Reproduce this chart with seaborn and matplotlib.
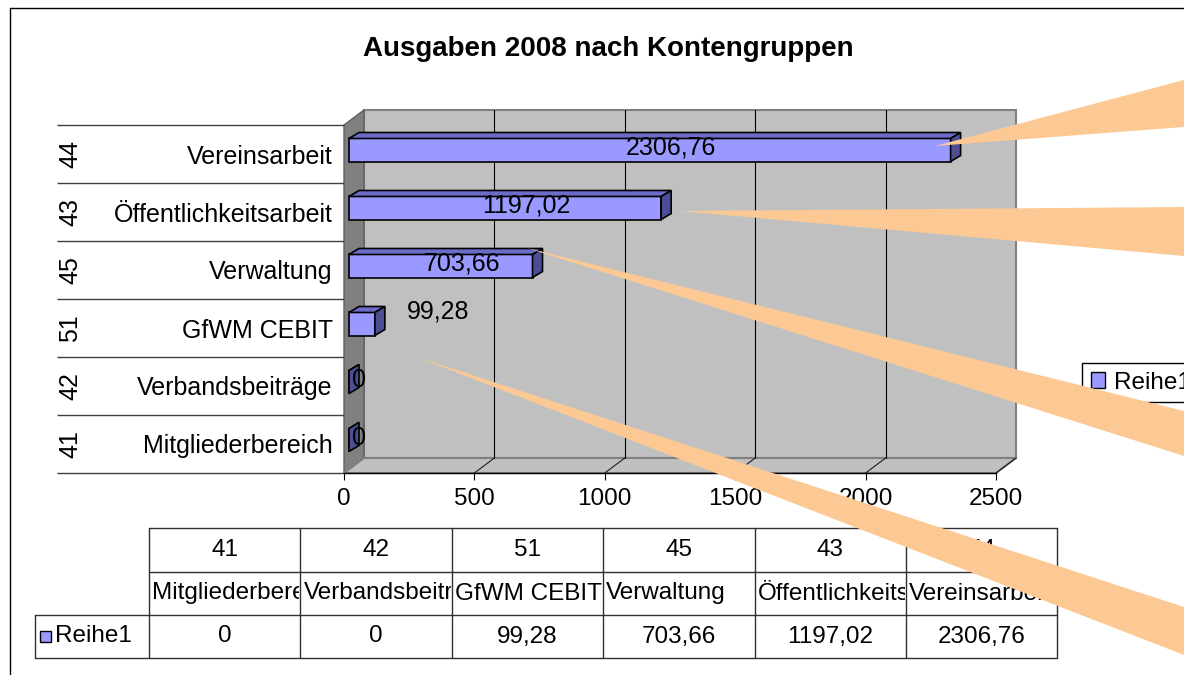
import matplotlib
matplotlib.use('Agg')
import matplotlib.pyplot as plt
import seaborn as sns
import pandas as pd
import numpy as np
from matplotlib.patches import Polygon, Rectangle, Patch

# ---------------------------------------------------------------------
# Daten (Excel-Reihenfolge, wie in der Datentabelle)
# ---------------------------------------------------------------------
codes = ['41', '42', '51', '45', '43', '44']
names = ['Mitgliederbereich', 'Verbandsbeiträge', 'GfWM CEBIT',
         'Verwaltung', 'Öffentlichkeitsarbeit', 'Vereinsarbeit']
values = [0, 0, 99.28, 703.66, 1197.02, 2306.76]
series_name = 'Reihe1'
title = 'Ausgaben 2008 nach Kontengruppen'
x_ticks = [0, 500, 1000, 1500, 2000, 2500]


def fmt(v):
    # deutsches Zahlenformat
    if v == int(v):
        return str(int(v))
    return f'{v:.2f}'.replace('.', ',')


sns.set_style('white')
plt.rcParams['font.family'] = ['Liberation Sans', 'DejaVu Sans']
plt.rcParams['text.color'] = 'black'
plt.rcParams['xtick.color'] = 'black'
plt.rcParams['ytick.color'] = 'black'
FS = 17.5

W, H = 1184, 675
fig = plt.figure(figsize=(W / 100, H / 100), dpi=100)

# Hauptachse = vordere Ebene des 3D-Diagramms
ax = fig.add_axes([344 / W, 1 - 473 / H, 652 / W, 348 / H])
ax.patch.set_visible(False)

df = pd.DataFrame({'code': codes, 'name': names, 'value': values})
plot_df = df.iloc[::-1].reset_index(drop=True)

sns.barplot(data=plot_df, x='value', y='name', orient='h', color='#9999FF',
            saturation=1, width=0.397, edgecolor='black', linewidth=1.2,
            ax=ax, zorder=3)

xmax = x_ticks[-1]
ax.set_xlim(0, xmax)
ax.set_ylim(5.5, -0.5)

ppu = 652 / xmax          # Pixel pro Einheit
ppr = 348 / 6             # Pixel pro Zeile
dxb, dyb = 20 / ppu, 15 / ppr    # Tiefe der Rueckwand
bdx, bdy = 10 / ppu, 6 / ppr     # Tiefe der Balken
x0, y0 = 5 / ppu, 4 / ppr

# Waende und Boden
ax.add_patch(Polygon([(dxb, -0.5 - dyb), (xmax + dxb, -0.5 - dyb),
                      (xmax + dxb, 5.5 - dyb), (dxb, 5.5 - dyb)],
                     fc='#C0C0C0', ec='#808080', lw=1.5, clip_on=False, zorder=0.5))
ax.add_patch(Polygon([(0, -0.5), (dxb, -0.5 - dyb), (dxb, 5.5 - dyb), (0, 5.5)],
                     fc='#808080', ec='#606060', lw=1, clip_on=False, zorder=0.6))
ax.add_patch(Polygon([(0, 5.5), (dxb, 5.5 - dyb), (xmax + dxb, 5.5 - dyb), (xmax, 5.5)],
                     fc='#C0C0C0', ec='#808080', lw=1.5, clip_on=False, zorder=0.6))
for t in x_ticks[1:-1]:
    ax.plot([t + dxb, t + dxb], [-0.5 - dyb, 5.5 - dyb], color='black', lw=0.8,
            clip_on=False, zorder=1)
for t in x_ticks[1:]:
    ax.plot([t, t + dxb], [5.5, 5.5 - dyb], color='#202020', lw=0.8,
            clip_on=False, zorder=1)

# 3D-Balken: Vorderseite verschieben, Ober- und Seitenflaeche ergaenzen
for p in list(ax.patches):
    if not isinstance(p, Rectangle):
        continue
    p.set_x(p.get_x() + x0)
    p.set_y(p.get_y() - y0)
    xa, xb = p.get_x(), p.get_x() + p.get_width()
    yt, yb = p.get_y(), p.get_y() + p.get_height()
    ax.add_patch(Polygon([(xa, yt), (xb, yt), (xb + bdx, yt - bdy), (xa + bdx, yt - bdy)],
                         fc='#6B6BC8', ec='black', lw=1.2, clip_on=False, zorder=3))
    ax.add_patch(Polygon([(xb, yt), (xb + bdx, yt - bdy), (xb + bdx, yb - bdy), (xb, yb)],
                         fc='#4D4D94', ec='black', lw=1.2, clip_on=False, zorder=3))

# Datenbeschriftungen
for i, v in enumerate(plot_df['value']):
    if v >= 500:
        ax.text(x0 + v / 2 + 80, i - 0.11, fmt(v), ha='center', va='center',
                fontsize=FS + 0.5, zorder=4)
    elif v > 0:
        ax.text(x0 + v + bdx + 85, i - 0.28, fmt(v), ha='left', va='center',
                fontsize=FS + 0.5, zorder=4)
    else:
        ax.text(x0 + v + bdx, i - 0.11, fmt(v), ha='center', va='center',
                fontsize=FS + 0.5, zorder=4)

# Achsen
ax.set_xticks(x_ticks)
ax.set_xticklabels([str(t) for t in x_ticks])
ax.tick_params(axis='x', length=5, width=0.8, pad=6, labelsize=FS,
               colors='black', bottom=True)
ax.tick_params(axis='y', length=0, pad=8, labelsize=18, colors='black')
ax.set_xlabel('')
ax.set_ylabel('')
for s in ['top', 'right', 'left']:
    ax.spines[s].set_visible(False)
ax.spines['bottom'].set_color('black')
ax.spines['bottom'].set_linewidth(1)

# Kategorietabelle links (Kontonummern)
ax.hlines(np.arange(-0.5, 6, 1), (57 - 344) / 652, 0, transform=ax.get_yaxis_transform(),
          colors='#404040', lw=1, clip_on=False)
for i, c in enumerate(plot_df['code']):
    ax.text((70 - 344) / 652, i, c, transform=ax.get_yaxis_transform(), rotation=90,
            ha='center', va='center', fontsize=18)

# Legende
ax.legend(handles=[Patch(fc='#9999FF', ec='black')], labels=[series_name],
          loc='upper left', bbox_to_anchor=(1082 / W, 1 - 363 / H),
          bbox_transform=fig.transFigure, frameon=True, fancybox=False,
          edgecolor='black', framealpha=1, borderaxespad=0, borderpad=0.35,
          fontsize=FS, handlelength=0.6, handleheight=0.6, handletextpad=0.35)
ax.get_legend().get_frame().set_linewidth(1)

# Overlay in Pixelkoordinaten: Rahmen, Titel, Datentabelle, Hinweisfahnen
ov = fig.add_axes([0, 0, 1, 1], zorder=10)
ov.set_xlim(0, W)
ov.set_ylim(H, 0)
ov.axis('off')

ov.plot([10, 10], [8, H], color='black', lw=1)
ov.plot([10, W], [8, 8], color='black', lw=1)
ov.text(608, 49, title, ha='center', va='center', fontsize=20, fontweight='bold')

tbl_x0, col_w = 149, 151.4
row_y = [528, 572, 615, 658]
tbl_x1 = tbl_x0 + col_w * len(codes)
for y in row_y[:2]:
    ov.plot([tbl_x0, tbl_x1], [y, y], color='#303030', lw=1)
for y in row_y[2:]:
    ov.plot([35, tbl_x1], [y, y], color='#303030', lw=1)
for k in range(len(codes) + 1):
    xx = tbl_x0 + k * col_w
    ov.plot([xx, xx], [row_y[0], row_y[3]], color='#303030', lw=1)
ov.plot([35, 35], [row_y[2], row_y[3]], color='#303030', lw=1)

for k, (c, n, v) in enumerate(zip(codes, names, values)):
    cx = tbl_x0 + k * col_w
    ov.text(cx + col_w / 2, (row_y[0] + row_y[1]) / 2, c, ha='center', va='center',
            fontsize=FS)
    t = ov.text(cx + 3, (row_y[1] + row_y[2]) / 2, n, ha='left', va='center',
                fontsize=FS, clip_on=True)
    t.set_clip_path(Rectangle((cx, row_y[1]), col_w - 1, row_y[2] - row_y[1],
                              transform=ov.transData))
    ov.text(cx + col_w / 2, (row_y[2] + row_y[3]) / 2, fmt(v), ha='center', va='center',
            fontsize=FS)

ov.add_patch(Rectangle((40, 631), 11, 11, fc='#9999FF', ec='black', lw=1))
ov.text(55, (row_y[2] + row_y[3]) / 2, series_name, ha='left', va='center', fontsize=FS)

# Hinweisfahnen (Excel-Fuehrungslinien)
wedges = [
    [(935, 146), (W, 80), (W, 127)],
    [(680, 211), (W, 207), (W, 256)],
    [(527, 248), (W, 411), (W, 456)],
    [(417, 357), (W, 607), (W, 655)],
]
for w in wedges:
    ov.add_patch(Polygon(w, closed=True, fc='#FCC994', ec='none', zorder=10))

fig.savefig('out.png', dpi=100)
